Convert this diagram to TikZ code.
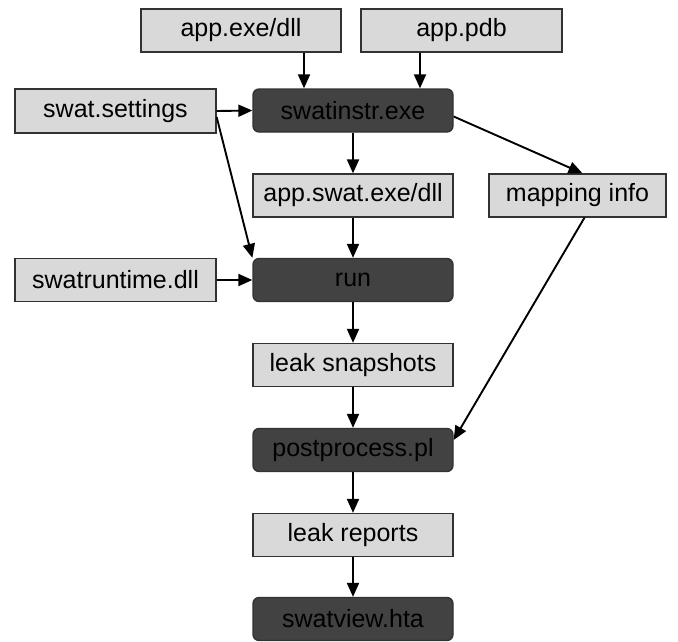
\documentclass[tikz,border=0pt]{standalone}
\usepackage{fontspec}
\setmainfont{Liberation Sans}
\usetikzlibrary{arrows.meta}
\definecolor{lightg}{RGB}{217,217,217}
\definecolor{darkg}{RGB}{66,66,66}
\definecolor{edge}{RGB}{50,50,50}
\begin{document}
\begin{tikzpicture}[x=1pt,y=-1pt,
  light/.style={draw=edge, line width=1.3pt, fill=lightg, minimum width=200pt, minimum height=43pt, inner sep=0pt, font=\fontsize{25}{25}\selectfont},
  dark/.style={light, fill=darkg, rounded corners=6pt, text=black},
  arr/.style={-{Triangle[length=14pt,width=12pt]}, line width=1.9pt}]
\useasboundingbox (0,0) rectangle (678,641);
\node[light] (app) at (241,30.5) {app.exe/dll};
\node[light, minimum width=201pt] (pdb) at (461.5,30.5) {app.pdb};
\node[light, minimum width=201pt, minimum height=44pt] (ss) at (115.5,111) {swat.settings};
\node[dark] (instr) at (353,110.5) {swatinstr.exe};
\node[light] (aswat) at (353,195.5) {app.swat.exe/dll};
\node[light, minimum width=177pt] (map) at (577.5,195.5) {mapping info};
\node[light, minimum width=201pt] (rt) at (115.5,280) {swatruntime.dll};
\node[dark] (run) at (353,280) {run};
\node[light] (snap) at (353,365) {leak snapshots};
\node[dark] (post) at (353,450) {postprocess.pl};
\node[light] (rep) at (353,535) {leak reports};
\node[dark] (view) at (353,619) {swatview.hta};

\draw[arr] ([xshift=63pt]app.south) -- ([xshift=-49pt]instr.north);
\draw[arr] ([xshift=-41.5pt]pdb.south) -- ([xshift=67pt]instr.north);
\draw[arr] (ss.east) -- (instr.west);
\draw[arr] ([yshift=-6pt]ss.east) -- (run.north west);
\draw[arr] ([yshift=-6pt]instr.east) -- ([xshift=5pt]map.north);
\draw[arr] (instr) -- (aswat);
\draw[arr] (aswat) -- (run);
\draw[arr] (rt) -- (run);
\draw[arr] (run) -- (snap);
\draw[arr] (snap) -- (post);
\draw[arr] ([xshift=7pt]map.south) -- ([yshift=10pt]post.east);
\draw[arr] (post) -- (rep);
\draw[arr] (rep) -- (view);
\end{tikzpicture}
\end{document}
